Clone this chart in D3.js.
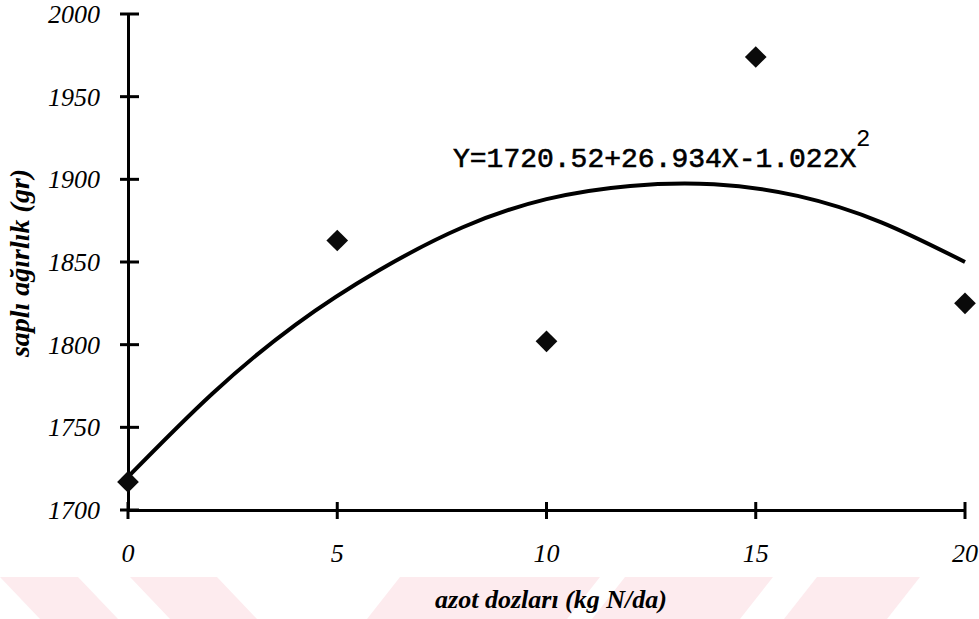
<!DOCTYPE html>
<html>
<head>
<meta charset="utf-8">
<script src="https://cdn.jsdelivr.net/npm/d3@7"></script>
<style>
  body { margin: 0; background: #fff; }
  svg { display: block; }
</style>
</head>
<body>
<svg width="979" height="619"></svg>
<script>
// Data
var doses = [0, 5, 10, 15, 20];
var weights = [1717, 1863, 1802, 1974, 1825];

// fitted curve
var curveX = [0, 2, 4, 6, 8, 10, 12, 14, 16, 18, 20];
var curveY = [1720, 1770, 1812, 1845, 1871, 1888, 1896, 1897, 1890, 1874, 1850];

var xTicks = [0, 5, 10, 15, 20];
var yTicks = [1700, 1750, 1800, 1850, 1900, 1950, 2000];

var equation = "Y=1720.52+26.934X-1.022X";

// watermark bands at bottom
var bandsLeft = [[0, 78], [130, 217]];
var bandsRight = [[400, 600], [625, 773], [817, 920]];

var svg = d3.select("svg"),
    width = +svg.attr("width"),
    height = +svg.attr("height");

// watermark
var wm = svg.append("g").attr("fill", "#fdebee");
bandsLeft.forEach(function (b) {
    wm.append("path")
        .attr("d", "M" + b[0] + ",577 L" + b[1] + ",577 L" + (b[1] + 40) + ",619 L" + (b[0] + 40) + ",619 Z");
});
bandsRight.forEach(function (b) {
    wm.append("path")
        .attr("d", "M" + b[0] + ",577 L" + b[1] + ",577 L" + (b[1] - 33) + ",619 L" + (b[0] - 33) + ",619 Z");
});

var x = d3.scaleLinear().domain([0, 20]).range([128, 965]);
var y = d3.scaleLinear().domain([1700, 2000]).range([510, 14]);

var font = "'Liberation Serif', 'Times New Roman', serif";

// y axis (ticks cross the line)
var yAxis = svg.append("g")
    .attr("transform", "translate(" + x(0) + ",0)")
    .call(d3.axisLeft(y).tickValues(yTicks).tickSize(0).tickFormat(""));
yAxis.select(".domain").attr("stroke", "#000").attr("stroke-width", 3);

svg.append("g").selectAll("line")
    .data(yTicks)
    .enter()
    .append("line")
    .attr("x1", x(0) - 8)
    .attr("x2", x(0) + 11)
    .attr("y1", function (d) { return y(d); })
    .attr("y2", function (d) { return y(d); })
    .attr("stroke", "#000")
    .attr("stroke-width", 3);

svg.append("g").selectAll("text")
    .data(yTicks)
    .enter()
    .append("text")
    .attr("x", 100)
    .attr("y", function (d) { return y(d); })
    .attr("dy", "0.35em")
    .attr("text-anchor", "end")
    .style("font-family", font)
    .style("font-style", "italic")
    .style("font-size", "26px")
    .text(function (d) { return d; });

// x axis
var xAxis = svg.append("g")
    .attr("transform", "translate(0," + y(1700) + ")")
    .call(d3.axisBottom(x).tickValues(xTicks).tickSize(0).tickFormat(""));
xAxis.select(".domain").attr("stroke", "#000").attr("stroke-width", 3);

svg.append("g").selectAll("line")
    .data(xTicks)
    .enter()
    .append("line")
    .attr("x1", function (d) { return x(d); })
    .attr("x2", function (d) { return x(d); })
    .attr("y1", y(1700) - 8)
    .attr("y2", y(1700) + 9)
    .attr("stroke", "#000")
    .attr("stroke-width", 3);

svg.append("g").selectAll("text")
    .data(xTicks)
    .enter()
    .append("text")
    .attr("x", function (d) { return x(d); })
    .attr("y", 562)
    .attr("text-anchor", "middle")
    .style("font-family", font)
    .style("font-style", "italic")
    .style("font-size", "26px")
    .text(function (d) { return d; });

// axis titles
svg.append("text")
    .attr("x", 551)
    .attr("y", 608)
    .attr("text-anchor", "middle")
    .style("font-family", font)
    .style("font-style", "italic")
    .style("font-weight", "bold")
    .style("font-size", "26px")
    .text("azot dozları (kg N/da)");

svg.append("text")
    .attr("transform", "translate(29,263) rotate(-90)")
    .attr("text-anchor", "middle")
    .style("font-family", font)
    .style("font-style", "italic")
    .style("font-weight", "bold")
    .style("font-size", "28px")
    .text("saplı ağırlık (gr)");

// fitted curve
var line = d3.line()
    .x(function (d, i) { return x(curveX[i]); })
    .y(function (d) { return y(d); })
    .curve(d3.curveNatural);

svg.append("path")
    .datum(curveY)
    .attr("d", line)
    .attr("fill", "none")
    .attr("stroke", "#000")
    .attr("stroke-width", 4);

// points
svg.append("g").selectAll("path")
    .data(doses)
    .enter()
    .append("path")
    .attr("transform", function (d, i) { return "translate(" + x(d) + "," + y(weights[i]) + ")"; })
    .attr("d", d3.symbol().type(d3.symbolDiamond2).size(300))
    .attr("fill", "#0a0a0a");

// equation
svg.append("text")
    .attr("x", 453)
    .attr("y", 167)
    .style("font-family", "'Liberation Mono', 'Courier New', monospace")
    .style("font-size", "28px")
    .style("stroke", "#000")
    .style("stroke-width", 0.6)
    .text(equation);
svg.append("text")
    .attr("x", 856)
    .attr("y", 146)
    .style("font-family", "'Liberation Mono', 'Courier New', monospace")
    .style("font-size", "24px")
    .text("2");
</script>
</body>
</html>
